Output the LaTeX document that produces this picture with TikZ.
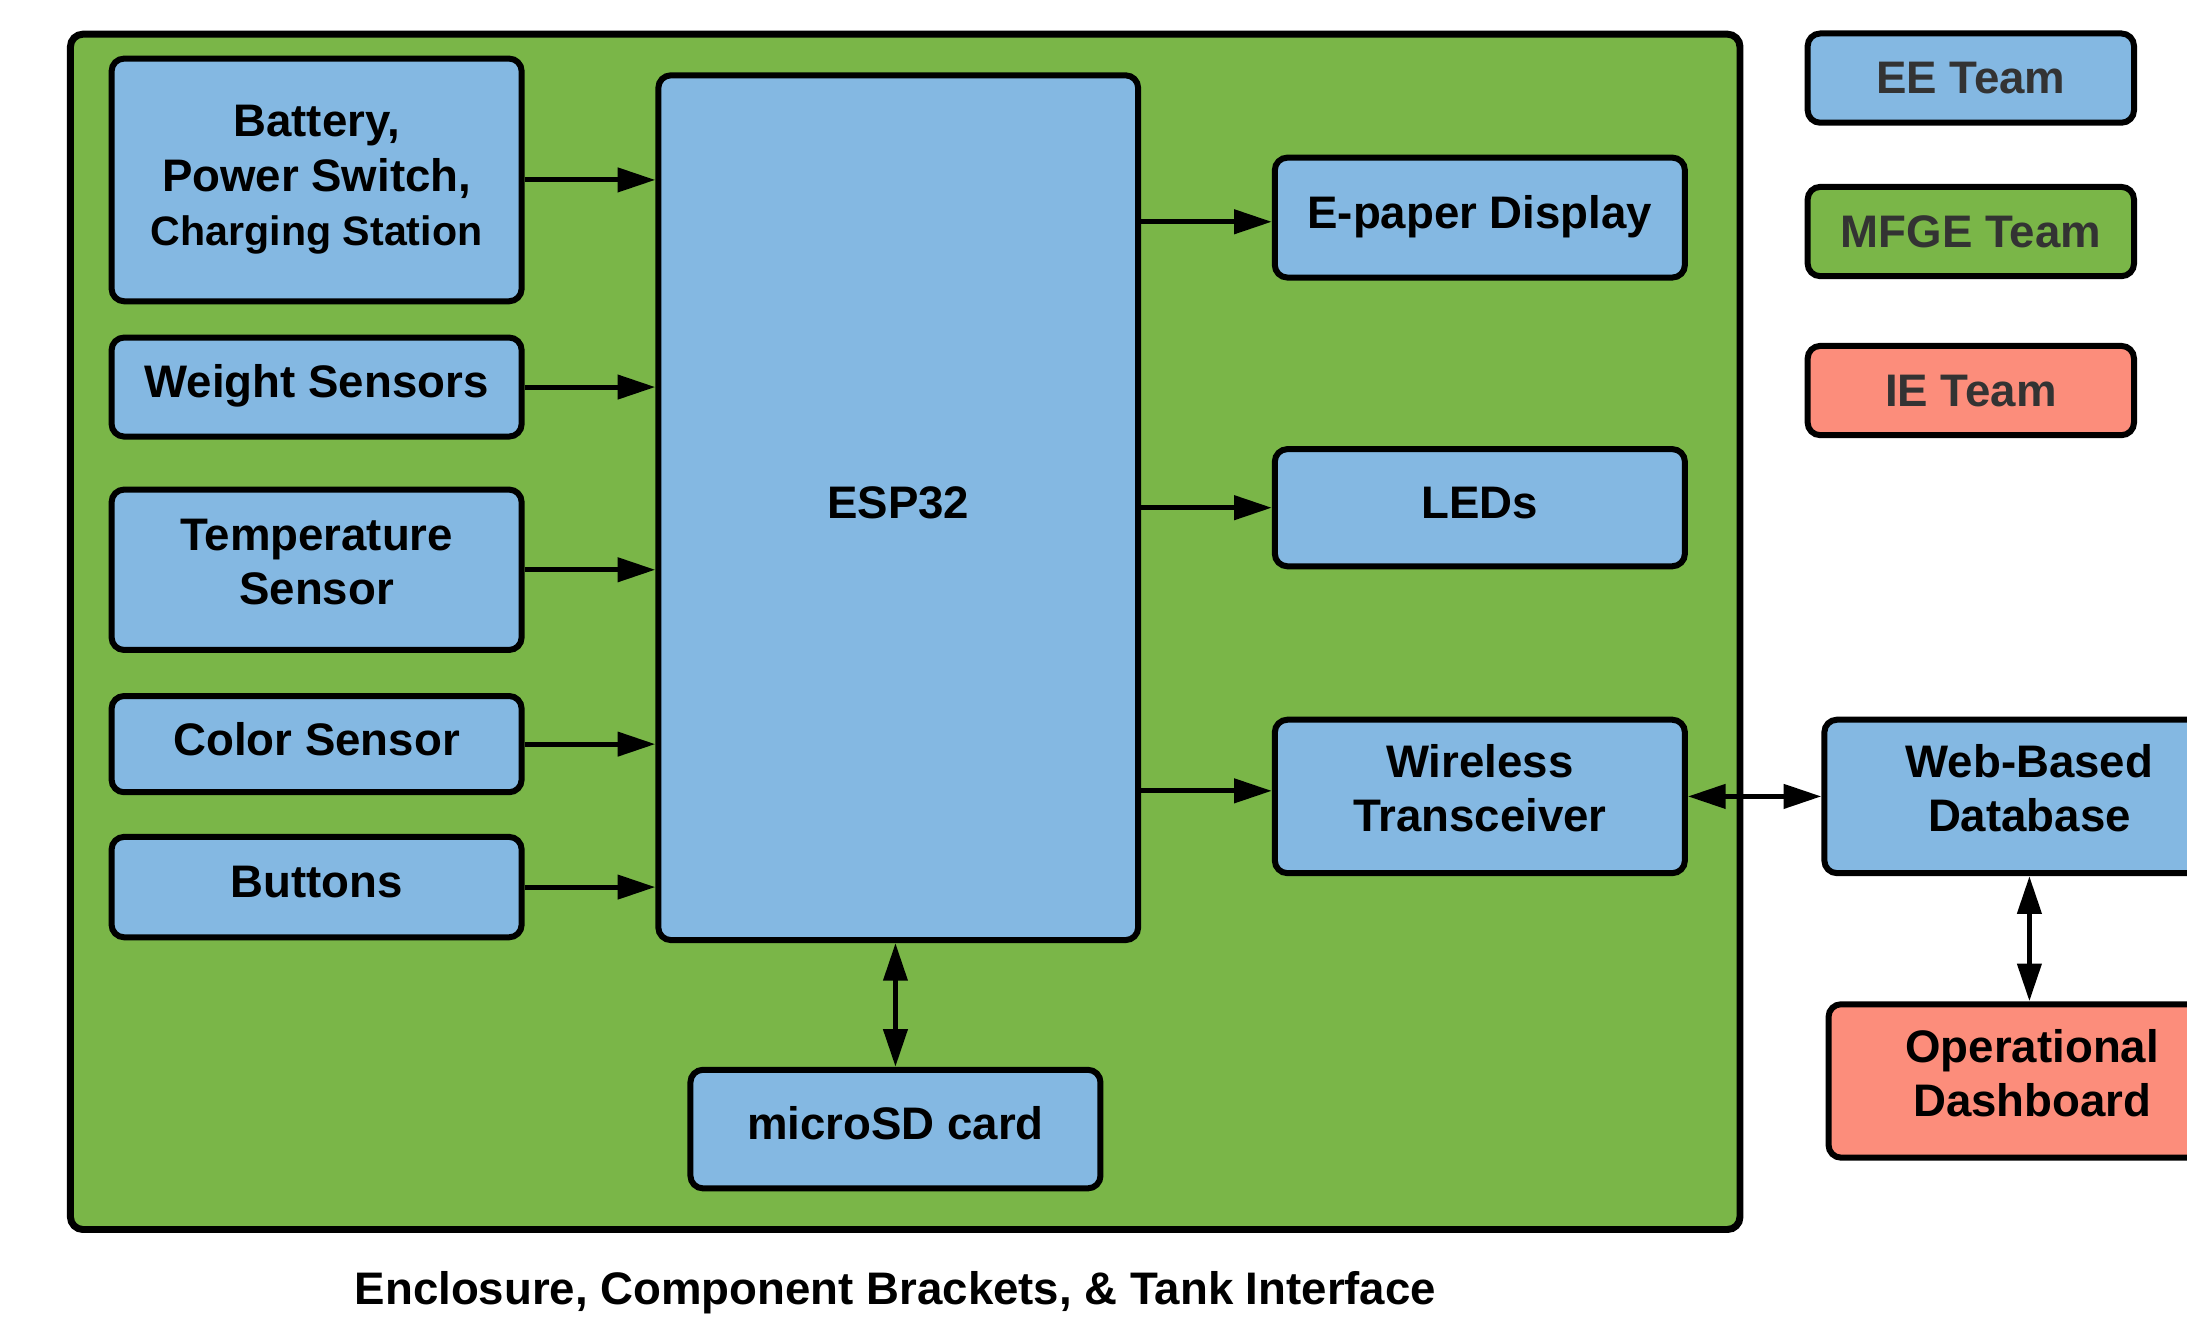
\documentclass[tikz,border=0pt]{standalone}
\usepackage{fontspec}
\setmainfont{Liberation Sans}
\usetikzlibrary{arrows.meta}
\definecolor{eeblue}{HTML}{84B8E2}
\definecolor{mfgreen}{HTML}{7AB648}
\definecolor{iered}{HTML}{FC8D7B}
\definecolor{legtext}{HTML}{333333}
\begin{document}
\begin{tikzpicture}[x=1pt,y=-1pt,
  boxbase/.style={draw=black, line width=4.3pt, rounded corners=9pt, align=center, inner sep=0pt,
    font=\bfseries\fontsize{32.7}{39}\selectfont},
  plainblue/.style={boxbase, fill=eeblue},
  bluebox/.style={boxbase, fill=eeblue, execute at begin node=\strut, execute at end node=\strut},
  redbox/.style={boxbase, fill=iered, execute at begin node=\strut, execute at end node=\strut},
  legbox/.style={boxbase, text=legtext, minimum width=234pt, minimum height=64pt},
  encbox/.style={draw=black, line width=5pt, rounded corners=9pt, fill=mfgreen, inner sep=0pt},
  arr/.style={line width=3.6pt, -{Triangle[length=27pt,width=17pt]}},
  darr/.style={line width=3.6pt, {Triangle[length=27pt,width=17pt]}-{Triangle[length=27pt,width=17pt]}},
  captext/.style={font=\bfseries\fontsize{32.7}{39}\selectfont, inner sep=0pt}
]
\useasboundingbox (0,0) rectangle (1568,948);
\clip (0,0) rectangle (1568,948);

% enclosure
\node[encbox, minimum width=1197pt, minimum height=857pt] (encl) at (649,453) {};

% inputs
\node[plainblue, minimum width=294pt, minimum height=174pt] (bat) at (227,129)
  {Battery,\\Power Switch,\\\fontsize{29.5}{37}\selectfont Charging Station};
\node[bluebox, minimum width=294pt, minimum height=71pt] (wgt) at (227,277.5) {Weight Sensors};
\node[bluebox, minimum width=294pt, minimum height=115pt] (tmp) at (227,408.5) {Temperature\\Sensor};
\node[bluebox, minimum width=294pt, minimum height=69pt] (col) at (227,533.5) {Color Sensor};
\node[bluebox, minimum width=294pt, minimum height=72pt] (btn) at (227,636) {Buttons};

% controller
\node[bluebox, minimum width=344pt, minimum height=620pt] (esp) at (644,364) {ESP32};

% outputs
\node[bluebox, minimum width=294pt, minimum height=86pt] (epd) at (1061,156) {E-paper Display};
\node[bluebox, minimum width=294pt, minimum height=84pt] (led) at (1061,364) {LEDs};
\node[bluebox, minimum width=294pt, minimum height=110pt] (wrl) at (1061,571) {Wireless\\Transceiver};
\node[bluebox, minimum width=294pt, minimum height=85pt] (sd) at (642,809.5) {microSD card};

% external
\node[bluebox, minimum width=294pt, minimum height=110pt] (db) at (1455,571) {Web-Based\\Database};
\node[redbox, minimum width=292pt, minimum height=110pt] (dash) at (1457,775) {Operational\\Dashboard};

% legend
\node[legbox, fill=eeblue] (lee) at (1413,56) {EE Team};
\node[legbox, fill=mfgreen] (lmf) at (1413,166) {MFGE Team};
\node[legbox, fill=iered] (lie) at (1413,280) {IE Team};

% caption
\node[captext] (cap) at (642,927) {Enclosure, Component Brackets, \& Tank Interface};

% connectors
\draw[arr] (bat.east) -- (bat.east -| esp.west);
\draw[arr] (wgt.east) -- (wgt.east -| esp.west);
\draw[arr] (tmp.east) -- (tmp.east -| esp.west);
\draw[arr] (col.east) -- (col.east -| esp.west);
\draw[arr] (btn.east) -- (btn.east -| esp.west);
\draw[arr] ([yshift=-3pt]epd.west -| esp.east) -- ([yshift=-3pt]epd.west);
\draw[arr] (led.west -| esp.east) -- (led.west);
\draw[arr] ([yshift=4pt]wrl.west -| esp.east) -- ([yshift=4pt]wrl.west);
\draw[darr] (sd.north |- esp.south) -- (sd.north);
\draw[darr] (wrl.east) -- (wrl.east -| db.west);
\draw[darr] (db.south) -- (db.south |- dash.north);
\end{tikzpicture}
\end{document}
